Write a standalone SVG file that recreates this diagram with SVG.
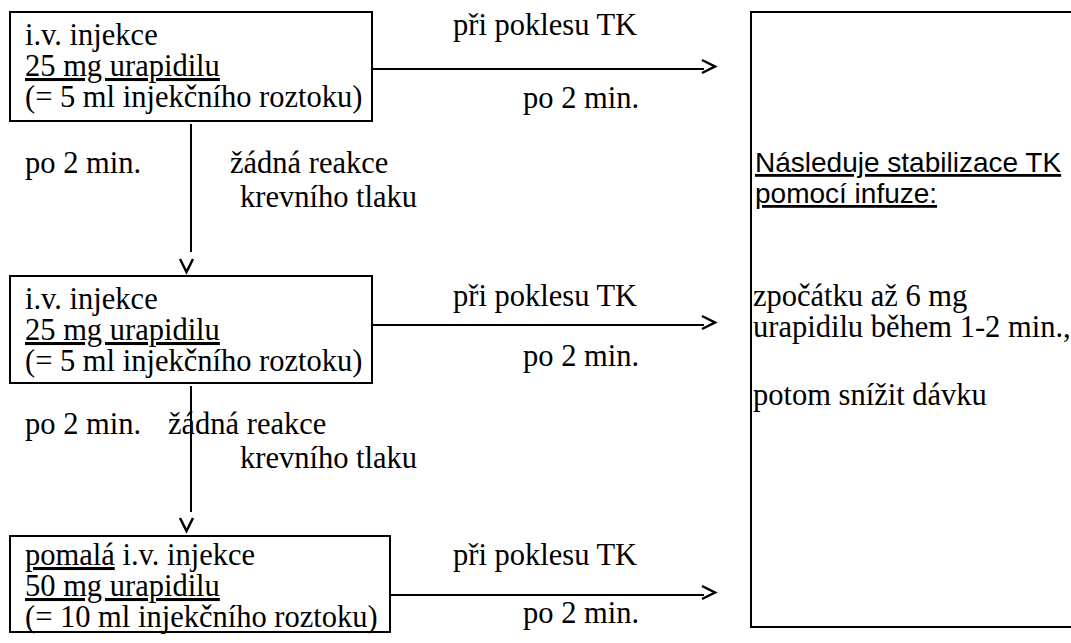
<svg xmlns="http://www.w3.org/2000/svg" width="1071" height="643" viewBox="0 0 1071 643">
<style>
.box{fill:#fff;stroke:#000;stroke-width:2}
.t{font-family:"Liberation Serif","Times New Roman",serif;font-size:30.5px;fill:#000}
.a{font-family:"Liberation Sans",Arial,sans-serif;font-size:28px;fill:#000}
.u{text-decoration:underline}
.ln{fill:none;stroke:#000;stroke-width:2}
.hd{fill:none;stroke:#000;stroke-width:2.5;stroke-linejoin:miter}
</style>
<rect width="1071" height="643" fill="#fff"/>
<g id="box1">
<rect class="box" x="10" y="12" width="362" height="109"/>
<text class="t" x="25" y="45">i.v. injekce</text>
<text class="t" x="25" y="76"><tspan class="u">25 mg urapidilu</tspan></text>
<text class="t" x="25" y="107">(= 5 ml injekčního roztoku)</text>
</g>
<g id="box2">
<rect class="box" x="10" y="276" width="362" height="107"/>
<text class="t" x="25" y="309">i.v. injekce</text>
<text class="t" x="25" y="340"><tspan class="u">25 mg urapidilu</tspan></text>
<text class="t" x="25" y="371">(= 5 ml injekčního roztoku)</text>
</g>
<g id="box3">
<rect class="box" x="10" y="536" width="380" height="96"/>
<text class="t" x="25" y="565"><tspan class="u">pomalá</tspan> i.v. injekce</text>
<text class="t" x="25" y="596"><tspan class="u">50 mg urapidilu</tspan></text>
<text class="t" x="25" y="627">(= 10 ml injekčního roztoku)</text>
</g>
<g id="infusion">
<rect class="box" x="751" y="12" width="330" height="615"/>
<text class="a" x="755" y="172"><tspan class="u"> Následuje stabilizace TK</tspan></text>
<text class="a" x="755" y="203"><tspan class="u"> pomocí infuze:</tspan></text>
<text class="t" x="753" y="306">zpočátku až 6 mg</text>
<text class="t" x="753" y="337">urapidilu během 1-2 min.,</text>
<text class="t" x="753" y="405">potom snížit dávku</text>
</g>
<g id="connectors">
<line class="ln" x1="372" y1="69" x2="704" y2="69"/>
<polyline class="hd" points="702,60 715,66.5 702,73"/>
<line class="ln" x1="372" y1="325" x2="704" y2="325"/>
<polyline class="hd" points="702,316 715,322.5 702,329"/>
<line class="ln" x1="390" y1="595" x2="704" y2="595"/>
<polyline class="hd" points="702,586 715,592.5 702,599"/>
<line class="ln" x1="191" y1="124" x2="191" y2="252"/>
<polyline class="hd" points="180,259 186.5,272 193,259"/>
<line class="ln" x1="191" y1="386" x2="191" y2="512"/>
<polyline class="hd" points="180,518 186.5,531 193,518"/>
</g>
<g id="labels">
<text class="t" x="453" y="35">při poklesu TK</text>
<text class="t" x="523" y="108">po 2 min.</text>
<text class="t" x="453" y="306">při poklesu TK</text>
<text class="t" x="523" y="366">po 2 min.</text>
<text class="t" x="453" y="565">při poklesu TK</text>
<text class="t" x="523" y="623">po 2 min.</text>
<text class="t" x="25" y="173">po 2 min.</text>
<text class="t" x="230" y="173">žádná reakce</text>
<text class="t" x="240" y="207">krevního tlaku</text>
<text class="t" x="25" y="434">po 2 min.</text>
<text class="t" x="168" y="434">žádná reakce</text>
<text class="t" x="240" y="468">krevního tlaku</text>
</g>
</svg>
